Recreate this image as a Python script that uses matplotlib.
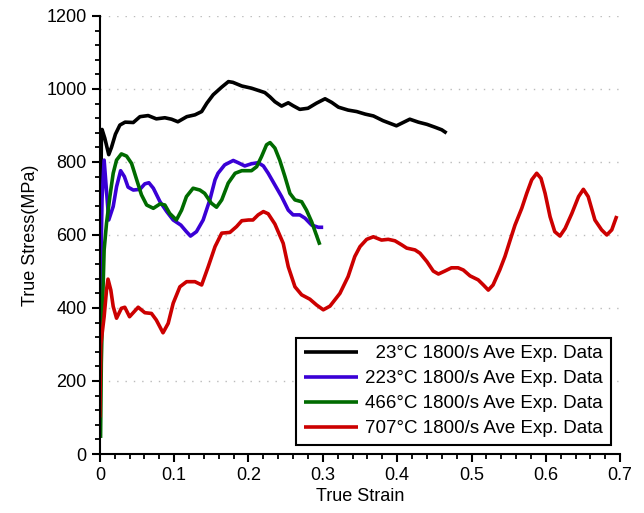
import numpy as np
import matplotlib
matplotlib.use("Agg")
import matplotlib.pyplot as plt
from matplotlib.ticker import MultipleLocator

plt.rcParams["font.family"] = ["Liberation Sans", "DejaVu Sans"]

# ---------------------------------------------------------------- data
strain_23 = [0.0, 0.002, 0.003, 0.0067, 0.012, 0.0157, 0.021, 0.027, 0.034, 0.045, 0.054,
             0.065, 0.076, 0.0875, 0.0965, 0.105, 0.117, 0.128, 0.137, 0.144, 0.1525,
             0.164, 0.173, 0.179, 0.191, 0.204, 0.222, 0.229, 0.2355, 0.2445, 0.2535,
             0.260, 0.269, 0.280, 0.2915, 0.303, 0.312, 0.321, 0.334, 0.3455, 0.357,
             0.368, 0.381, 0.390, 0.399, 0.408, 0.417, 0.4285, 0.440, 0.451, 0.460, 0.4665]
stress_23 = [300, 850, 889, 865, 820, 840, 876, 901, 909, 908, 924,
             927, 918, 921, 917, 910, 924, 929, 938, 961, 984,
             1005, 1020, 1018, 1008, 1002, 990, 978, 965, 953, 962,
             954, 944, 947, 961, 973, 963, 950, 942, 938, 931,
             926, 913, 906, 899, 908, 917, 909, 903, 895, 888, 879]

strain_223 = [0.0, 0.003, 0.0058, 0.009, 0.012, 0.018, 0.0225, 0.028, 0.033, 0.038, 0.045,
              0.054, 0.0605, 0.066, 0.072, 0.081, 0.090, 0.0987, 0.109, 0.1165, 0.122,
              0.130, 0.139, 0.148, 0.155, 0.159, 0.168, 0.1795, 0.186, 0.195, 0.204,
              0.213, 0.220, 0.2265, 0.2355, 0.2445, 0.2535, 0.260, 0.269, 0.276, 0.285,
              0.294, 0.3005]
stress_223 = [360, 700, 805, 720, 641, 678, 732, 776, 760, 731, 723,
              725, 740, 743, 728, 691, 664, 641, 627, 609, 597,
              609, 641, 696, 751, 769, 792, 804, 798, 789, 795,
              798, 789, 769, 737, 705, 668, 655, 655, 646, 627,
              621, 621]

strain_466 = [0.001, 0.002, 0.004, 0.0058, 0.009, 0.0135, 0.018, 0.0225, 0.029, 0.036,
              0.0427, 0.049, 0.056, 0.063, 0.072, 0.081, 0.0875, 0.094, 0.103, 0.110,
              0.1165, 0.1255, 0.1346, 0.141, 0.150, 0.157, 0.164, 0.1727, 0.182, 0.191,
              0.204, 0.211, 0.2176, 0.2243, 0.229, 0.2355, 0.242, 0.249, 0.2557, 0.2625,
              0.2715, 0.278, 0.285, 0.296]
stress_466 = [44, 250, 430, 559, 632, 705, 769, 805, 822, 816,
              796, 755, 710, 682, 673, 685, 682, 659, 641, 668,
              705, 728, 723, 714, 687, 676, 696, 742, 769, 776,
              776, 787, 815, 847, 853, 838, 805, 760, 714, 696,
              691, 668, 636, 573]

strain_707 = [0.0, 0.0013, 0.0058, 0.009, 0.011, 0.0148, 0.018, 0.0225, 0.029, 0.0336,
              0.040, 0.0516, 0.0606, 0.0695, 0.076, 0.085, 0.092, 0.0987, 0.1077, 0.1167,
              0.128, 0.137, 0.1458, 0.155, 0.164, 0.175, 0.184, 0.191, 0.200, 0.206,
              0.213, 0.220, 0.2265, 0.2355, 0.2467, 0.2535, 0.2625, 0.2715, 0.2826, 0.2917,
              0.3006, 0.3096, 0.323, 0.334, 0.343, 0.350, 0.359, 0.368, 0.379, 0.388,
              0.397, 0.406, 0.4128, 0.424, 0.4307, 0.440, 0.4486, 0.4555, 0.464, 0.473,
              0.482, 0.489, 0.498, 0.509, 0.516, 0.5226, 0.529, 0.538, 0.545, 0.552,
              0.5585, 0.5676, 0.5743, 0.581, 0.5877, 0.5935, 0.599, 0.6057, 0.612, 0.619,
              0.626, 0.635, 0.644, 0.6505, 0.657, 0.666, 0.675, 0.682, 0.6887, 0.6954]
stress_707 = [100, 299, 376, 449, 479, 449, 404, 372, 399, 402,
              376, 402, 387, 385, 367, 332, 358, 413, 458, 472,
              472, 463, 513, 568, 605, 607, 623, 639, 641, 641,
              655, 664, 658, 630, 577, 513, 458, 436, 424, 408,
              395, 405, 440, 486, 541, 568, 588, 595, 586, 588,
              584, 573, 564, 559, 550, 527, 501, 493, 501, 510,
              510, 504, 488, 477, 463, 449, 463, 504, 541, 586,
              627, 673, 714, 751, 769, 755, 714, 650, 609, 597,
              618, 659, 705, 725, 705, 641, 614, 600, 614, 652]

labels = ["  23°C 1800/s Ave Exp. Data", "223°C 1800/s Ave Exp. Data",
          "466°C 1800/s Ave Exp. Data", "707°C 1800/s Ave Exp. Data"]
colors = ["#000000", "#3a00d6", "#006b00", "#cc0000"]

# ---------------------------------------------------------------- plot
fig = plt.figure(figsize=(6.44, 5.13), dpi=100)
ax = fig.add_axes([0.155, 0.115, 0.808, 0.854])

series = [(strain_23, stress_23), (strain_223, stress_223),
          (strain_466, stress_466), (strain_707, stress_707)]
for (x, y), c, lab in zip(series, colors, labels):
    ax.plot(x, y, color=c, lw=2.6, label=lab, solid_joinstyle="round",
            solid_capstyle="butt")

ax.set_xlim(0, 0.7)
ax.set_ylim(0, 1200)
ax.xaxis.set_minor_locator(MultipleLocator(0.02))
ax.yaxis.set_major_locator(MultipleLocator(200))
ax.yaxis.set_minor_locator(MultipleLocator(40))
ax.set_xticks(np.arange(0, 0.71, 0.1))
ax.set_xticklabels(["0", "0.1", "0.2", "0.3", "0.4", "0.5", "0.6", "0.7"])

for s in ("top", "right"):
    ax.spines[s].set_visible(False)
for s in ("left", "bottom"):
    ax.spines[s].set_linewidth(1.5)

ax.tick_params(which="major", direction="out", length=6, width=1.5, labelsize=13)
ax.tick_params(which="minor", direction="out", length=3.5, width=1.3)
ax.grid(True, axis="y", which="major", color="#bbbbbb", lw=1.0, linestyle=(0, (1, 5)))

ax.set_xlabel("True Strain", fontsize=13, labelpad=3)
ax.set_ylabel("True Stress(MPa)", fontsize=13, labelpad=5)

leg = ax.legend(loc="lower right", fontsize=13.5, handlelength=2.9, handletextpad=0.4,
                labelspacing=0.42, borderaxespad=0.5, fancybox=False, framealpha=1,
                borderpad=0.4)
leg.get_frame().set_edgecolor("black")
leg.get_frame().set_linewidth(1.5)

plt.savefig("out.png", dpi=100)
